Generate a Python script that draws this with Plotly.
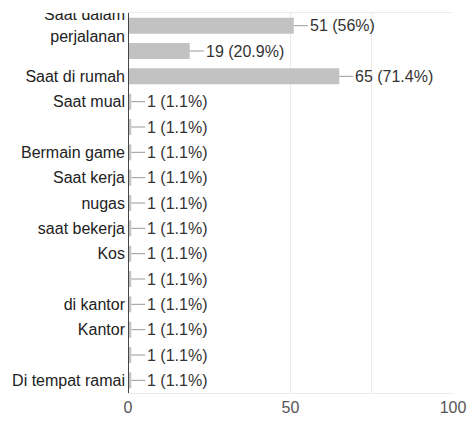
import plotly.graph_objects as go

categories = ["Saat dalam perjalanan", "", "Saat di rumah", "Saat mual", "", "Bermain game",
              "Saat kerja", "nugas", "saat bekerja", "Kos", "", "di kantor", "Kantor", "",
              "Di tempat ramai"]
counts = [51, 19, 65, 1, 1, 1, 1, 1, 1, 1, 1, 1, 1, 1, 1]
percents = ["56%", "20.9%", "71.4%", "1.1%", "1.1%", "1.1%", "1.1%", "1.1%", "1.1%",
            "1.1%", "1.1%", "1.1%", "1.1%", "1.1%", "1.1%"]
x_tickvals = [0, 50, 75, 100]
x_ticktext = ["0", "50", "", "100"]

FONT = "Liberation Sans, Arial, sans-serif"
FS = 16
idx = list(range(len(categories)))

# first category label wraps onto two lines (upper line partly clipped at the top)
first_a, first_b = categories[0].rsplit(" ", 1)
y_tickvals = [-0.444, 0.43] + idx[1:]
y_ticktext = [first_a, first_b] + categories[1:]

fig = go.Figure(go.Bar(
    x=counts, y=idx, orientation="h",
    marker=dict(color="#c2c2c2", line=dict(width=0)),
    hoverinfo="skip",
))

shapes = []
annotations = []
for i, (c, p) in enumerate(zip(counts, percents)):
    shapes.append(dict(type="line", xref="x", yref="y", xsizemode="pixel", xanchor=c,
                       x0=0, x1=14, y0=i, y1=i,
                       line=dict(color="#9a9a9a", width=1)))
    annotations.append(dict(x=c, y=i, xref="x", yref="y", text=f"{c} ({p})",
                            showarrow=False, xanchor="left", yanchor="middle",
                            xshift=14, font=dict(family=FONT, size=FS, color="#333333")))

# white mask above the plot area, left of the axis (clips the wrapped label)
shapes.append(dict(type="rect", xref="paper", yref="paper", x0=-0.5, x1=-0.004, y0=1.0, y1=1.1,
                   fillcolor="white", line=dict(width=0), layer="above"))

# axis line at zero
shapes.append(dict(type="line", xref="x", yref="paper", x0=0, x1=0, y0=0, y1=1,
                   line=dict(color="#444444", width=2), layer="above"))

fig.update_layout(
    width=468, height=421,
    margin=dict(l=128, r=15, t=13, b=28),
    paper_bgcolor="white", plot_bgcolor="white",
    showlegend=False,
    bargap=0.37,
    shapes=shapes,
    annotations=annotations,
    font=dict(family=FONT, size=FS, color="#222222"),
    xaxis=dict(range=[0, 100], tickvals=x_tickvals, ticktext=x_ticktext,
               showgrid=True, gridcolor="#ebebeb", gridwidth=1, zeroline=False,
               showline=True, linecolor="#ebebeb", mirror=True, automargin=False,
               tickfont=dict(family=FONT, size=FS, color="#555555"), ticks="", fixedrange=True),
    yaxis=dict(range=[len(categories) - 0.5, -0.5], tickvals=y_tickvals, ticktext=y_ticktext,
               showgrid=False, zeroline=False, showline=False, ticks="", automargin=False,
               ticklabelstandoff=2,
               tickfont=dict(family=FONT, size=FS, color="#222222"), fixedrange=True),
)

fig.write_html("out.html", config={"displayModeBar": False},
               post_script="document.body.style.margin='0';")
